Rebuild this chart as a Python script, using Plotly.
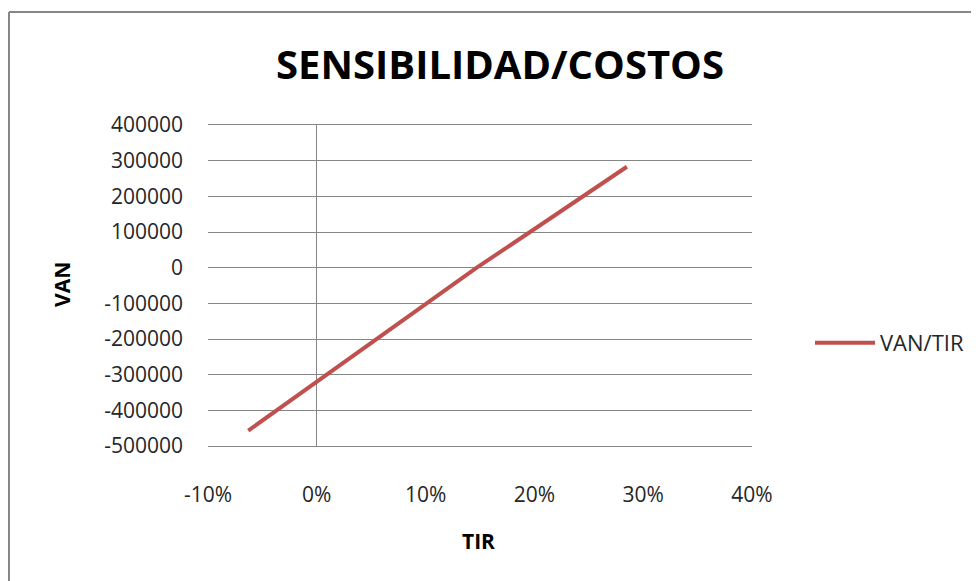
import plotly.graph_objects as go

# Data
tir = [-0.063, 0.0, 0.052, 0.147, 0.196, 0.285]
van = [-457000, -320000, -207000, 0, 100000, 283000]

x_tickvals = [-0.1, 0.0, 0.1, 0.2, 0.3, 0.4]
x_ticktext = ["-10%", "0%", "10%", "20%", "30%", "40%"]
y_tickvals = [400000, 300000, 200000, 100000, 0, -100000, -200000, -300000, -400000, -500000]
y_ticktext = ["400000", "300000", "200000", "100000", "0", "-100000", "-200000", "-300000", "-400000", "-500000"]

FONT = "Open Sans"
GRID = "#868686"
OFF = 8  # page body margin

fig = go.Figure()
fig.add_trace(go.Scatter(
    x=tir, y=van, mode="lines", name="VAN/TIR",
    line=dict(color="#C0504D", width=4),
))

fig.update_layout(
    width=979, height=581,
    margin=dict(l=208 - OFF, r=979 - (752 - OFF), t=125 - OFF, b=581 - (446 - OFF)),
    paper_bgcolor="white", plot_bgcolor="white",
    font=dict(family=FONT, size=21, color="#262626"),
    title=dict(text="<b>SENSIBILIDAD/COSTOS</b>", x=(500 - OFF)/979, xref="container", xanchor="center",
               y=1-(65 - OFF)/581, yref="container", yanchor="middle",
               font=dict(family=FONT, size=40, color="black")),
    showlegend=True,
    legend=dict(x=(810-208)/544, y=(446-343)/321, xanchor="left", yanchor="middle",
                font=dict(family=FONT, size=22, color="#262626"), itemwidth=60,
                bgcolor="rgba(0,0,0,0)"),
    xaxis=dict(range=[-0.1, 0.4], tickvals=x_tickvals, ticktext=x_ticktext,
               showgrid=False, zeroline=True, zerolinecolor=GRID, zerolinewidth=1,
               showline=True, mirror=True, linecolor=GRID, linewidth=1,
               ticks="", ticklabelstandoff=30,
               tickfont=dict(family=FONT, size=21, color="#262626")),
    yaxis=dict(range=[-500000, 400000], tickvals=y_tickvals, ticktext=y_ticktext,
               showgrid=True, gridcolor=GRID, gridwidth=1, zeroline=False,
               showline=False, ticks="", ticklabelstandoff=24,
               tickfont=dict(family=FONT, size=21, color="#262626")),
    annotations=[
        dict(text="<b>VAN</b>", xref="paper", yref="paper", x=(62-208)/544, y=(446-285)/321,
             textangle=-90, showarrow=False, font=dict(family=FONT, size=21, color="black"),
             xanchor="center", yanchor="middle"),
        dict(text="<b>TIR</b>", xref="paper", yref="paper", x=(478-208)/544, y=(446-541)/321,
             showarrow=False, font=dict(family=FONT, size=21, color="black"),
             xanchor="center", yanchor="middle"),
    ],
    shapes=[
        dict(type="line", xref="paper", yref="paper", x0=(9-208)/544, x1=(995-208)/544,
             y0=1+(125-12)/321, y1=1+(125-12)/321, line=dict(color="#868686", width=2)),
        dict(type="line", xref="paper", yref="paper", x0=(9-208)/544, x1=(9-208)/544,
             y0=1+(125-12)/321, y1=(446-600)/321, line=dict(color="#868686", width=2)),
    ],
)

fig.write_html("out.html")
